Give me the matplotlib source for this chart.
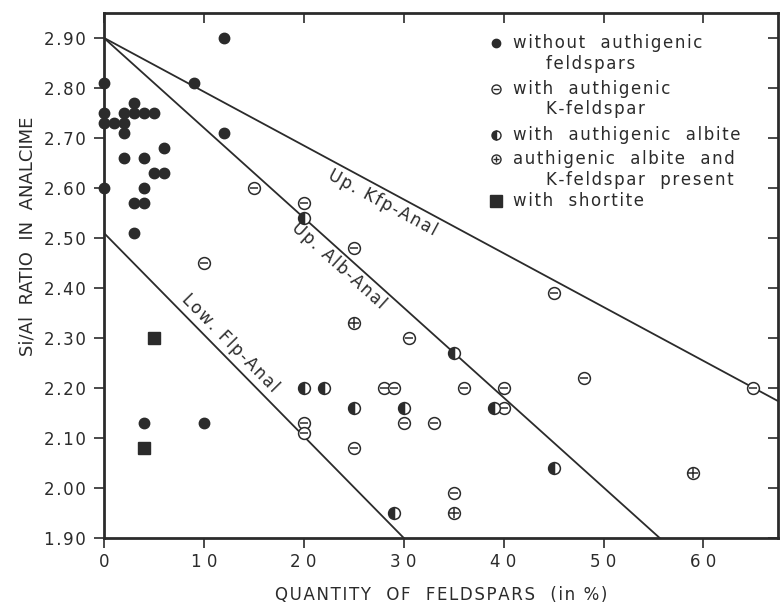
import matplotlib
matplotlib.use("Agg")
import matplotlib.pyplot as plt
import numpy as np

plt.rcParams["font.family"] = ["DejaVu Sans"]

ink = "#2b2b2b"

# samples without authigenic feldspars
plain_x = [0, 9, 12, 12, 3, 0, 2, 3, 4, 5, 0, 1, 2, 2, 6, 2, 4, 5, 6, 0, 4, 3, 4, 3, 4, 10]
plain_y = [2.81, 2.81, 2.90, 2.71, 2.77, 2.75, 2.75, 2.75, 2.75, 2.75, 2.73, 2.73, 2.73,
           2.71, 2.68, 2.66, 2.66, 2.63, 2.63, 2.60, 2.60, 2.57, 2.57, 2.51, 2.13, 2.13]

# with authigenic K-feldspar
kfs_x = [15, 10, 20, 25, 30.5, 28, 29, 36, 40, 40, 30, 33, 20, 20, 25, 35, 45, 48, 65]
kfs_y = [2.60, 2.45, 2.57, 2.48, 2.30, 2.20, 2.20, 2.20, 2.20, 2.16, 2.13, 2.13, 2.13,
         2.11, 2.08, 1.99, 2.39, 2.22, 2.20]

# with authigenic albite
alb_x = [20, 35, 20, 22, 25, 30, 39, 29, 45]
alb_y = [2.54, 2.27, 2.20, 2.20, 2.16, 2.16, 2.16, 1.95, 2.04]

# albite and K-feldspar present
both_x = [25, 35, 59]
both_y = [2.33, 1.95, 2.03]

# with shortite
short_x = [5, 4]
short_y = [2.30, 2.08]

# boundary lines
kfp_x = [0, 67.5]
kfp_y = [2.90, 2.173]
albl_x = [0, 55.6]
albl_y = [2.90, 1.90]
flp_x = [0, 30]
flp_y = [2.51, 1.90]

xticks = [0, 10, 20, 30, 40, 50, 60]
yticks = [1.90, 2.00, 2.10, 2.20, 2.30, 2.40, 2.50, 2.60, 2.70, 2.80, 2.90]


def spaced(s, sep="\u200a"):
    # lettering in the original is wide, so pad the letters a bit
    return sep.join(s)


fig = plt.figure(figsize=(7.8, 6.07), dpi=100)
ax = fig.add_axes([0.133, 0.114, 0.865, 0.865])
ax.set_xlim(0, 67.5)
ax.set_ylim(1.90, 2.95)

for lx, ly in [(kfp_x, kfp_y), (albl_x, albl_y), (flp_x, flp_y)]:
    ax.plot(lx, ly, color=ink, lw=1.3, zorder=2)

ax.plot(plain_x, plain_y, "o", ms=7.5, color=ink, zorder=3, clip_on=False)
ax.plot(kfs_x, kfs_y, "o", ms=8.5, mfc="white", mec=ink, mew=1.1, zorder=3)
ax.plot(kfs_x, kfs_y, "_", ms=6, mec=ink, mew=1.1, zorder=4)
ax.plot(alb_x, alb_y, "o", ms=8.5, fillstyle="left", mfc=ink, mfcalt="white",
        mec=ink, mew=1.1, zorder=3, clip_on=False)
ax.plot(both_x, both_y, "o", ms=8.5, mfc="white", mec=ink, mew=1.1, zorder=3)
ax.plot(both_x, both_y, "+", ms=6.5, mec=ink, mew=1.1, zorder=4)
ax.plot(short_x, short_y, "s", ms=9, color=ink, zorder=3)


# labels along the lines
def line_label(text, lx, ly, xpos, off):
    p1 = ax.transData.transform((lx[0], ly[0]))
    p2 = ax.transData.transform((lx[1], ly[1]))
    ang = np.degrees(np.arctan2(p2[1] - p1[1], p2[0] - p1[0]))
    ypos = ly[0] + (ly[1] - ly[0]) * (xpos - lx[0]) / (lx[1] - lx[0])
    nx = -np.sin(np.radians(ang)) * off
    ny = np.cos(np.radians(ang)) * off
    ax.annotate(text, (xpos, ypos), xytext=(nx, ny), textcoords="offset points",
                rotation=ang, ha="center", va="center", fontsize=12, color=ink)


line_label(spaced("Up. Kfp-Anal"), kfp_x, kfp_y, 28.5, -9)
line_label(spaced("Up. Alb-Anal"), albl_x, albl_y, 24.3, -9)
line_label(spaced("Low. Flp-Anal"), flp_x, flp_y, 11.7, 9)

# legend drawn by hand
mx, tx, ix = 0.582, 0.607, 0.655
entries = [
    (0.943, "without  authigenic", 0.903, "feldspars"),
    (0.855, "with  authigenic", 0.817, "K-feldspar"),
    (0.768, "with  authigenic  albite", None, None),
    (0.722, "authigenic  albite  and", 0.682, "K-feldspar  present"),
    (0.642, "with  shortite", None, None),
]
for yy, t1, y2, t2 in entries:
    ax.text(tx, yy, spaced(t1), transform=ax.transAxes, fontsize=12, color=ink, va="center")
    if t2:
        ax.text(ix, y2, spaced(t2), transform=ax.transAxes, fontsize=12, color=ink, va="center")
ys = [e[0] for e in entries]
ax.plot([mx], [ys[0]], "o", ms=6, color=ink, transform=ax.transAxes)
ax.plot([mx], [ys[1]], "o", ms=6.5, mfc="white", mec=ink, mew=1, transform=ax.transAxes)
ax.plot([mx], [ys[1]], "_", ms=4.5, mec=ink, mew=1, transform=ax.transAxes)
ax.plot([mx], [ys[2]], "o", ms=6.5, fillstyle="left", mfc=ink, mfcalt="white",
        mec=ink, mew=1, transform=ax.transAxes)
ax.plot([mx], [ys[3]], "o", ms=6.5, mfc="white", mec=ink, mew=1, transform=ax.transAxes)
ax.plot([mx], [ys[3]], "+", ms=5, mec=ink, mew=1, transform=ax.transAxes)
ax.plot([mx], [ys[4]], "s", ms=8, color=ink, transform=ax.transAxes)

ax.set_xticks(xticks)
ax.set_xticklabels([spaced(str(v), " ") for v in xticks], fontsize=12, color=ink)
ax.set_yticks(yticks)
ax.set_yticklabels([spaced("%.2f" % v) for v in yticks], fontsize=12, color=ink)
ax.tick_params(axis="both", direction="out", length=7, width=1.2, color=ink,
               top=True, right=True)
ax.tick_params(axis="x", pad=4)
ax.tick_params(axis="y", pad=6)
for t in ax.xaxis.get_major_ticks():
    t.tick2line.set_marker(matplotlib.lines.TICKDOWN)
for t in ax.yaxis.get_major_ticks():
    t.tick2line.set_marker(matplotlib.lines.TICKLEFT)

for s in ax.spines.values():
    s.set_linewidth(2)
    s.set_color(ink)

ax.set_xlabel(spaced("QUANTITY  OF  FELDSPARS  (in %)"), fontsize=12, color=ink, labelpad=11)
ax.set_ylabel("Si/Al  RATIO  IN  ANALCIME", fontsize=13, color=ink)
ax.yaxis.set_label_coords(-0.10, 0.575)

fig.savefig("out.png", dpi=100, facecolor="white")
